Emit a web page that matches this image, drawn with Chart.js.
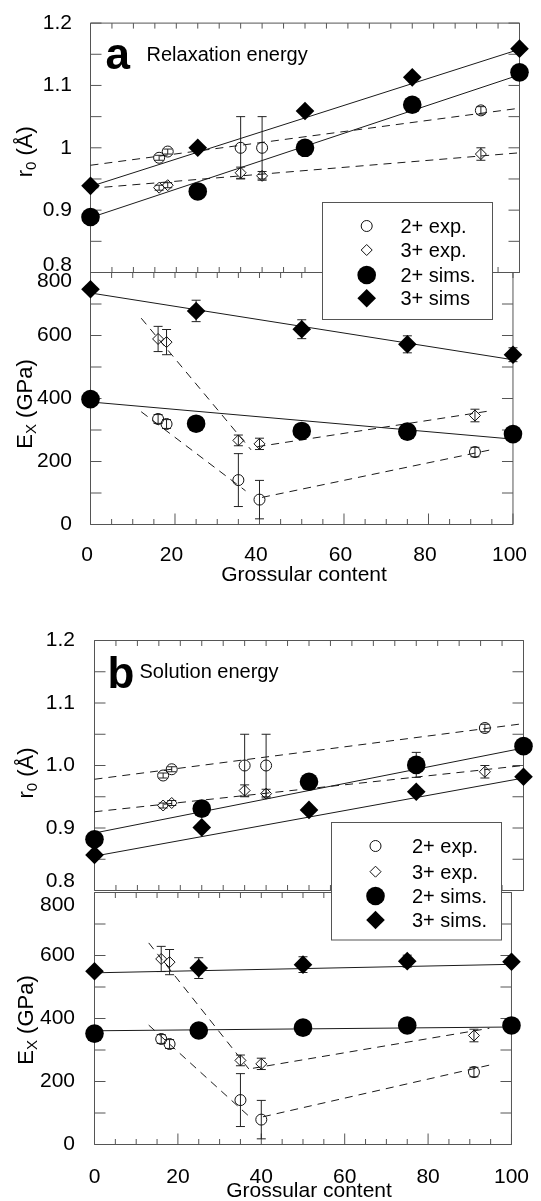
<!DOCTYPE html>
<html><head><meta charset="utf-8">
<script src="https://cdn.jsdelivr.net/npm/chart.js@4.4.1/dist/chart.umd.min.js"></script>
<style>
html,body{margin:0;padding:0;background:#fff;}
body{width:541px;height:1201px;position:relative;overflow:hidden;font-family:"Liberation Sans",Arial,Helvetica,sans-serif;}
canvas{position:absolute;left:0;}
#ov{position:absolute;left:0;top:0;}
</style></head><body>
<canvas id="cA1" width="541" height="310" style="top:0px;width:541px;height:310px"></canvas>
<canvas id="cA2" width="541" height="370" style="top:230px;width:541px;height:370px"></canvas>
<canvas id="cB1" width="541" height="320" style="top:600px;width:541px;height:320px"></canvas>
<canvas id="cB2" width="541" height="351" style="top:850px;width:541px;height:351px"></canvas>
<svg id="ov" width="541" height="1201" xmlns="http://www.w3.org/2000/svg" font-family="Liberation Sans, Arial, Helvetica, sans-serif" fill="#000">
  <!-- panel a annotations -->
  <text x="105.5" y="69" font-size="44" font-weight="bold">a</text>
  <text x="146.5" y="61" font-size="20">Relaxation energy</text>
  <text transform="translate(31.7,151.7) rotate(-90)" text-anchor="middle" font-size="22">r<tspan font-size="15" dy="4">0</tspan><tspan dy="-4"> (Å)</tspan></text>
  <text transform="translate(31.7,404) rotate(-90)" text-anchor="middle" font-size="22">E<tspan font-size="15" dy="4">X</tspan><tspan dy="-4"> (GPa)</tspan></text>
  <text x="304" y="581" font-size="21" text-anchor="middle">Grossular content</text>
  <g>
    <rect x="322.5" y="202.5" width="170" height="117" fill="#fff" stroke="#555" stroke-width="1"/>
    <circle cx="366.7" cy="226" r="5.5" fill="none" stroke="#111" stroke-width="1"/>
    <polygon points="361.2,250 366.7,244.5 372.2,250 366.7,255.5" fill="none" stroke="#111" stroke-width="1"/>
    <circle cx="366.7" cy="275" r="9.3" fill="#000"/>
    <polygon points="357.4,298.3 366.7,289 376,298.3 366.7,307.6" fill="#000"/>
    <text x="400.5" y="233" font-size="20">2+ exp.</text>
    <text x="400.5" y="257" font-size="20">3+ exp.</text>
    <text x="400.5" y="282" font-size="20">2+ sims.</text>
    <text x="400.5" y="305.3" font-size="20">3+ sims</text>
  </g>
  <!-- panel b annotations -->
  <text x="107.5" y="688.3" font-size="44" font-weight="bold">b</text>
  <text x="139.5" y="678" font-size="20">Solution energy</text>
  <text transform="translate(32.5,773) rotate(-90)" text-anchor="middle" font-size="22">r<tspan font-size="15" dy="4">0</tspan><tspan dy="-4"> (Å)</tspan></text>
  <text transform="translate(32.5,1020) rotate(-90)" text-anchor="middle" font-size="22">E<tspan font-size="15" dy="4">X</tspan><tspan dy="-4"> (GPa)</tspan></text>
  <text x="309" y="1197" font-size="21" text-anchor="middle">Grossular content</text>
  <g>
    <rect x="331.5" y="822.5" width="170" height="117.5" fill="#fff" stroke="#555" stroke-width="1"/>
    <circle cx="375.5" cy="846" r="5.5" fill="none" stroke="#111" stroke-width="1"/>
    <polygon points="370,871.7 375.5,866.2 381,871.7 375.5,877.2" fill="none" stroke="#111" stroke-width="1"/>
    <circle cx="375.5" cy="896" r="9.3" fill="#000"/>
    <polygon points="366.2,920 375.5,910.7 384.8,920 375.5,929.3" fill="#000"/>
    <text x="412" y="853" font-size="20">2+ exp.</text>
    <text x="412" y="878.7" font-size="20">3+ exp.</text>
    <text x="412" y="903" font-size="20">2+ sims.</text>
    <text x="412" y="927" font-size="20">3+ sims.</text>
  </g>
</svg>
<script>
// ---------- data ----------
const simX = [0, 25, 50, 75, 100];          // grossular content of simulations
const expX = [16, 18, 35, 40, 91];          // grossular content of experiments

// experimental values (same in both panels)
const expR0_2    = [0.984, 0.994, 1.000, 1.000, 1.060];
const expR0_2err = [0.004, 0.004, 0.050, 0.050, 0.006];
const expR0_3    = [0.936, 0.940, 0.960, 0.955, 0.990];
const expR0_3err = [0.004, 0.004, 0.009, 0.007, 0.010];
const expEx_2    = [335, 319, 141, 79, 230];
const expEx_2err = [14, 14, 84, 61, 15];
const expEx_3    = [589, 579, 267, 256, 346];
const expEx_3err = [40, 40, 17, 18, 20];

// panel a: relaxation energy
const aR0_sim2 = [0.889, 0.930, 1.000, 1.069, 1.121];
const aR0_sim3 = [0.939, 1.000, 1.059, 1.113, 1.159];
const aEx_sim2 = [398, 320, 297, 295, 287];
const aEx_sim3 = [747, 678, 620, 572, 539];
const aEx_sim3err = [0, 34, 30, 27, 22];
// fitted lines [x0, y0, x1, y1]
const aR0_fitSim2 = [0, 0.888, 100, 1.117];
const aR0_fitSim3 = [0, 0.938, 100, 1.158];
const aR0_fitExp2 = [0, 0.972, 100, 1.0635];
const aR0_fitExp3 = [0, 0.935, 100, 0.992];
const aEx_fitSim2 = [0, 389, 100, 271];
const aEx_fitSim3 = [0, 735, 100, 523];
const aEx_fitExp2a = [12, 358, 36.7, 107];
const aEx_fitExp2b = [40.6, 86, 94.7, 237];
const aEx_fitExp3a = [12, 655, 38, 237];
const aEx_fitExp3b = [39.5, 247, 94.7, 361];

// panel b: solution energy
const bR0_sim2 = [0.882, 0.931, 0.974, 1.001, 1.031];
const bR0_sim2err = [0, 0, 0, 0.02, 0];
const bR0_sim3 = [0.857, 0.901, 0.929, 0.958, 0.982];
const bEx_sim2 = [352, 362, 371, 378, 378];
const bEx_sim3 = [550, 560, 571, 582, 580];
const bEx_sim3err = [0, 33, 25, 19, 0];
const bR0_fitSim2 = [0, 0.892, 100, 1.028];
const bR0_fitSim3 = [0, 0.855, 100, 0.980];
const bR0_fitExp2 = [0, 0.978, 100, 1.067];
const bR0_fitExp3 = [0, 0.926, 100, 1.000];
const bEx_fitSim2 = [0, 361, 100, 373];
const bEx_fitSim3 = [0, 545, 100, 572];
const bEx_fitExp2a = [13, 379, 37.6, 83];
const bEx_fitExp2b = [40.4, 88, 94.7, 252];
const bEx_fitExp3a = [13, 640, 37, 240];
const bEx_fitExp3b = [38, 242, 94.7, 369];

// tick labels
const xTickLabels = ['0', '20', '40', '60', '80', '100'];
const r0TickLabelsA = ['0.8', '0.9', '1', '1.1', '1.2'];
const r0TickLabelsB = ['0.8', '0.9', '1.0', '1.1', '1.2'];
const exTickLabels = ['0', '200', '400', '600', '800'];

// ---------- helpers ----------
Chart.defaults.font.family = "'Liberation Sans', Arial, Helvetica, sans-serif";
Chart.defaults.font.size = 21;
Chart.defaults.color = '#000';

const pts = (xs, ys) => xs.map((x, i) => ({x: x, y: ys[i]}));
const seg = s => [{x: s[0], y: s[1]}, {x: s[2], y: s[3]}];

function markers(xs, ys, kind, errs) {
  const filled = kind === 'sim2' || kind === 'sim3';
  const circle = kind === 'sim2' || kind === 'exp2';
  return {
    data: pts(xs, ys), errors: errs || null,
    pointStyle: circle ? 'circle' : 'rectRot',
    pointRadius: filled ? 9.3 : 5.5,
    pointHoverRadius: filled ? 9.3 : 5.5,
    pointBorderWidth: filled ? 0 : 1,
    pointBorderColor: '#111',
    pointBackgroundColor: filled ? '#000' : 'rgba(0,0,0,0)',
    showLine: false, clip: false, order: 1
  };
}
function fitLine(s, dashed) {
  return {
    data: seg(s), showLine: true, pointRadius: 0, pointHoverRadius: 0,
    borderColor: '#1a1a1a', borderWidth: 1, borderDash: dashed ? [8, 6] : [],
    fill: false, clip: false, order: 5
  };
}

const frameTicks = {
  id: 'frameTicks',
  beforeDatasetsDraw(chart, args, o) {
    const ctx = chart.ctx, ca = chart.chartArea, x = chart.scales.x, y = chart.scales.y;
    ctx.save();
    ctx.strokeStyle = '#555'; ctx.lineWidth = 1;
    ctx.beginPath();
    ctx.rect(ca.left, ca.top, ca.right - ca.left, ca.bottom - ca.top);
    const n = Math.round((y.max - y.min) / o.yStep);
    for (let k = 0; k <= n; k++) {
      const py = y.getPixelForValue(y.min + k * o.yStep);
      ctx.moveTo(ca.left, py); ctx.lineTo(ca.left + 11, py);
      ctx.moveTo(ca.right, py); ctx.lineTo(ca.right - 11, py);
    }
    for (let v = x.min; v <= x.max; v += 5) {
      const px = x.getPixelForValue(v);
      ctx.moveTo(px, ca.top); ctx.lineTo(px, ca.top + 5.5);
      const lb = (o.bottomMajor && v % 20 === 0) ? 11 : 5.5;
      ctx.moveTo(px, ca.bottom); ctx.lineTo(px, ca.bottom - lb);
    }
    ctx.stroke();
    // error bars
    ctx.strokeStyle = '#222';
    ctx.beginPath();
    chart.data.datasets.forEach(ds => {
      if (!ds.errors) return;
      ds.data.forEach((p, i) => {
        const e = ds.errors[i];
        if (!e) return;
        const px = x.getPixelForValue(p.x);
        const y1 = y.getPixelForValue(p.y + e), y2 = y.getPixelForValue(p.y - e);
        ctx.moveTo(px, y1); ctx.lineTo(px, y2);
        ctx.moveTo(px - 4.5, y1); ctx.lineTo(px + 4.5, y1);
        ctx.moveTo(px - 4.5, y2); ctx.lineTo(px + 4.5, y2);
      });
    });
    ctx.stroke();
    ctx.restore();
  }
};

function makeChart(id, c) {
  return new Chart(document.getElementById(id), {
    type: 'scatter',
    data: {datasets: c.datasets},
    options: {
      responsive: false, animation: false, devicePixelRatio: 1,
      events: [],
      layout: {padding: c.padding},
      plugins: {legend: {display: false}, tooltip: {enabled: false},
                frameTicks: {yStep: c.yStep, bottomMajor: c.showX}},
      scales: {
        x: {type: 'linear', min: 0, max: 100, position: 'bottom',
            grid: {display: false}, border: {display: false},
            ticks: {display: c.showX, stepSize: 20, autoSkip: false, maxRotation: 0,
                    padding: c.xPad || 0, labelOffset: c.xLabelOffset || 0,
                    callback: (v, i) => xTickLabels[i]},
            afterFit: s => { s.height = c.showX ? 45 : 0; }},
        y: {type: 'linear', min: c.yMin, max: c.yMax, position: 'left',
            grid: {display: false}, border: {display: false},
            ticks: {stepSize: c.yLabelStep, autoSkip: false, padding: c.yPad,
                    font: ctx => (ctx && ctx.index === c.edgeIndex) ? {size: 21, lineHeight: c.edgeLH + 'px'} : {size: 21},
                    callback: (v, i) => {
                      const t = c.yLabels[i];
                      if (i === c.edgeIndex) return c.edgeUp ? [t, ''] : ['', t];
                      return t;
                    }},
            afterFit: s => { s.width = c.yWidth; }}
      }
    },
    plugins: [frameTicks]
  });
}

// panel a, r0
makeChart('cA1', {
  padding: {left: 0, right: 21.5, top: 20.5, bottom: 37.5}, yWidth: 90.5,
  yMin: 0.8, yMax: 1.2, yLabelStep: 0.1, yStep: 0.05, yLabels: r0TickLabelsA, yPad: 10.5,
  edgeIndex: 0, edgeUp: true, edgeLH: 15.4, showX: false,
  datasets: [
    markers(simX, aR0_sim3, 'sim3'), markers(simX, aR0_sim2, 'sim2'),
    markers(expX, expR0_2, 'exp2', expR0_2err), markers(expX, expR0_3, 'exp3', expR0_3err),
    fitLine(aR0_fitSim2, false), fitLine(aR0_fitSim3, false),
    fitLine(aR0_fitExp2, true), fitLine(aR0_fitExp3, true)
  ]
});
// panel a, Ex
makeChart('cA2', {
  padding: {left: 0, right: 21.5, top: 42.5, bottom: 30.5}, yWidth: 90.5,
  yMin: 0, yMax: 800, yLabelStep: 200, yStep: 100, yLabels: exTickLabels, yPad: 10.5,
  edgeIndex: 4, edgeUp: false, edgeLH: 18.4, showX: true, xPad: 10.5, xLabelOffset: -3.5,
  datasets: [
    markers(simX, aEx_sim3, 'sim3', aEx_sim3err), markers(simX, aEx_sim2, 'sim2'),
    markers(expX, expEx_2, 'exp2', expEx_2err), markers(expX, expEx_3, 'exp3', expEx_3err),
    fitLine(aEx_fitSim2, false), fitLine(aEx_fitSim3, false),
    fitLine(aEx_fitExp2a, true), fitLine(aEx_fitExp2b, true),
    fitLine(aEx_fitExp3a, true), fitLine(aEx_fitExp3b, true)
  ]
});
// panel b, r0
makeChart('cB1', {
  padding: {left: 0, right: 17.5, top: 40.5, bottom: 27.5}, yWidth: 94.5,
  yMin: 0.8, yMax: 1.2, yLabelStep: 0.1, yStep: 0.05, yLabels: r0TickLabelsB, yPad: 11.5,
  edgeIndex: 0, edgeUp: true, edgeLH: 18, showX: false,
  datasets: [
    markers(simX, bR0_sim3, 'sim3'), markers(simX, bR0_sim2, 'sim2', bR0_sim2err),
    markers(expX, expR0_2, 'exp2', expR0_2err), markers(expX, expR0_3, 'exp3', expR0_3err),
    fitLine(bR0_fitSim2, false), fitLine(bR0_fitSim3, false),
    fitLine(bR0_fitExp2, true), fitLine(bR0_fitExp3, true)
  ]
});
// panel b, Ex
makeChart('cB2', {
  padding: {left: 0, right: 17.5, top: 42.5, bottom: 11.5}, yWidth: 94.5,
  yMin: 0, yMax: 800, yLabelStep: 200, yStep: 100, yLabels: exTickLabels, yPad: 11.5,
  edgeIndex: 4, edgeUp: false, edgeLH: 26, showX: true, xPad: 12, xLabelOffset: 0,
  datasets: [
    markers(simX, bEx_sim3, 'sim3', bEx_sim3err), markers(simX, bEx_sim2, 'sim2'),
    markers(expX, expEx_2, 'exp2', expEx_2err), markers(expX, expEx_3, 'exp3', expEx_3err),
    fitLine(bEx_fitSim2, false), fitLine(bEx_fitSim3, false),
    fitLine(bEx_fitExp2a, true), fitLine(bEx_fitExp2b, true),
    fitLine(bEx_fitExp3a, true), fitLine(bEx_fitExp3b, true)
  ]
});
</script>
</body></html>
